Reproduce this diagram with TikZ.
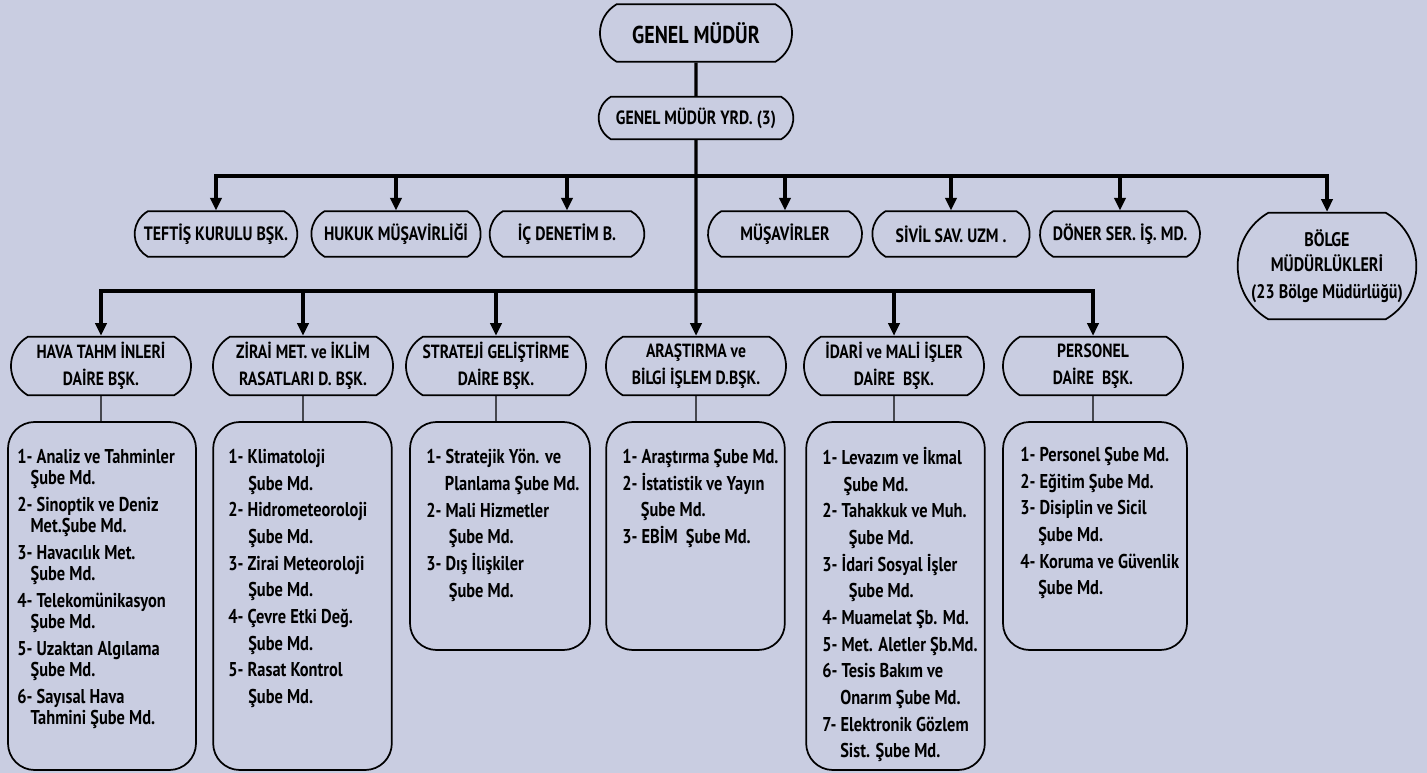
\documentclass[tikz,border=0pt]{standalone}
\usepackage{fontspec}
\setmainfont{PT Sans}[FakeStretch=0.82]
\usetikzlibrary{shapes.misc,arrows.meta,positioning}
\definecolor{bgcol}{RGB}{201,205,225}

\begin{document}
\begin{tikzpicture}[x=0.75pt,y=-0.75pt,
  pill/.style={draw,line width=1.3pt,rounded rectangle,rounded rectangle arc length=120,
    inner sep=0pt,align=center,minimum height=34pt,font=\bfseries\fontsize{14.5}{17}\selectfont},
  chief/.style={pill,minimum width=144pt,minimum height=43pt,font=\bfseries\fontsize{18.3}{21}\selectfont},
  dept/.style={pill,minimum width=135pt,minimum height=44pt,font=\bfseries\fontsize{14.3}{20}\selectfont},
  listbox/.style={draw,line width=1.3pt,rounded corners=20pt,minimum width=134pt},
  listtext/.style={anchor=north west,inner sep=0pt,align=left,font=\bfseries\fontsize{15}{20}\selectfont},
  bus/.style={line width=2.3pt},
  arr/.style={bus,-{Triangle[width=8.5pt,length=9.5pt]}},
  tie/.style={line width=1pt}]
\useasboundingbox[fill=bgcol] (0,0) rectangle (1427,773);

% top
\node[chief] (gm) at (696,33) {GENEL MÜDÜR};
\node[pill,minimum width=146pt,minimum height=32pt,font=\bfseries\fontsize{14.4}{17}\selectfont] (gmy) at (696,118) {GENEL MÜDÜR YRD. (3)};

% first row
\node[pill,minimum width=122pt] (tef) at (216,234) {TEFTİŞ KURULU BŞK.};
\node[pill,minimum width=127pt] (huk) at (396,234) {HUKUK MÜŞAVİRLİĞİ};
\node[pill,minimum width=116pt] (ic) at (567,234) {İÇ DENETİM B.};
\node[pill,minimum width=115.5pt] (mus) at (785,234) {MÜŞAVİRLER};
\node[pill,minimum width=118pt] (siv) at (951,234) {SİVİL SAV. UZM .};
\node[pill,minimum width=120pt] (don) at (1120,234) {DÖNER SER. İŞ. MD.};
\node[pill,minimum width=134pt,minimum height=80pt,font=\bfseries\fontsize{14.7}{19}\selectfont] (bol) at (1327,266)
  {BÖLGE\\MÜDÜRLÜKLERİ\\[1pt](23 Bölge Müdürlüğü)};

% departments
\node[dept] (hava) at (101,366) {HAVA TAHM İNLERİ\\DAİRE BŞK.};
\node[dept] (zir) at (303,366) {ZİRAİ MET. ve İKLİM\\RASATLARI D. BŞK.};
\node[dept] (str) at (496,366) {STRATEJİ GELİŞTİRME\\DAİRE BŞK.};
\node[dept] (ara) at (696,366) {ARAŞTIRMA ve\\BİLGİ İŞLEM D.BŞK.};
\node[dept] (ida) at (894,366) {İDARİ ve MALİ İŞLER\\DAİRE~~BŞK.};
\node[dept] (per) at (1093,366) {PERSONEL\\DAİRE~~BŞK.};

% lists
\node[listbox,minimum width=141pt,minimum height=261pt] (l1) at (102,596) {};
\node[listbox,minimum height=261pt] (l2) at (302.5,596) {};
\node[listbox,minimum width=135pt,minimum height=171pt] (l3) at (500,536) {};
\node[listbox,minimum height=171pt] (l4) at (695.5,536) {};
\node[listbox,minimum height=261pt] (l5) at (895.5,596) {};
\node[listbox,minimum width=138pt,minimum height=171pt] (l6) at (1095,536) {};

\node[listtext,font=\bfseries\fontsize{15}{16}\selectfont] (t1) at (17,449)
  {1- Analiz ve Tahminler\\\hspace*{10pt}Şube Md.\\[4pt]
   2- Sinoptik ve Deniz\\\hspace*{10pt}Met.Şube Md.\\[4pt]
   3- Havacılık Met.\\\hspace*{10pt}Şube Md.\\[4pt]
   4- Telekomünikasyon\\\hspace*{10pt}Şube Md.\\[4pt]
   5- Uzaktan Algılama\\\hspace*{10pt}Şube Md.\\[4pt]
   6- Sayısal Hava\\\hspace*{10pt}Tahmini~Şube Md.};
\node[listtext] (t2) at (228,449)
  {1- Klimatoloji\\\hspace*{15pt}Şube Md.\\
   2- Hidrometeoroloji\\\hspace*{15pt}Şube Md.\\
   3- Zirai Meteoroloji\\\hspace*{15pt}Şube Md.\\
   4- Çevre Etki Değ.\\\hspace*{15pt}Şube Md.\\
   5- Rasat Kontrol\\\hspace*{15pt}Şube Md.};
\node[listtext] (t3) at (426,449)
  {1- Stratejik Yön. ve\\\hspace*{14pt}Planlama Şube Md.\\
   2- Mali Hizmetler\\\hspace*{17pt}Şube Md.\\
   3- Dış İlişkiler\\\hspace*{17pt}Şube Md.};
\node[listtext] (t4) at (622,449)
  {1- Araştırma Şube Md.\\
   2- İstatistik ve Yayın\\\hspace*{14pt}Şube Md.\\
   3- EBİM~~Şube Md.};
\node[listtext] (t5) at (822,447)
  {1- Levazım ve İkmal\\\hspace*{16pt}Şube Md.\\
   2- Tahakkuk ve Muh.\\\hspace*{20pt}Şube Md.\\
   3- İdari Sosyal İşler\\\hspace*{20pt}Şube Md.\\
   4- Muamelat Şb. Md.\\
   5- Met. Aletler Şb.Md.\\
   6- Tesis Bakım ve\\\hspace*{13.5pt}Onarım Şube Md.\\
   7- Elektronik Gözlem\\\hspace*{13.5pt}Sist. Şube Md.};
\node[listtext] (t6) at (1020,447)
  {1- Personel Şube Md.\\
   2- Eğitim Şube Md.\\
   3- Disiplin ve Sicil\\\hspace*{13.5pt}Şube Md.\\
   4- Koruma ve Güvenlik\\\hspace*{13.5pt}Şube Md.};

% connectors
\coordinate (b1) at (696,176);
\coordinate (b2) at (696,291);
\draw[bus] (gm) -- (gmy);
\draw[arr] (gmy) -- (ara);
\foreach \n in {tef,huk,ic,mus,siv,don,bol}
  \draw[arr] (b1) -| (\n.north);
\foreach \n in {hava,zir,str,ida,per}
  \draw[arr] (b2) -| (\n.north);
\foreach \d/\l in {hava/l1,zir/l2,str/l3,ara/l4,ida/l5,per/l6}
  \draw[tie] (\d) -- (\d.south |- \l.north);
\end{tikzpicture}
\end{document}
